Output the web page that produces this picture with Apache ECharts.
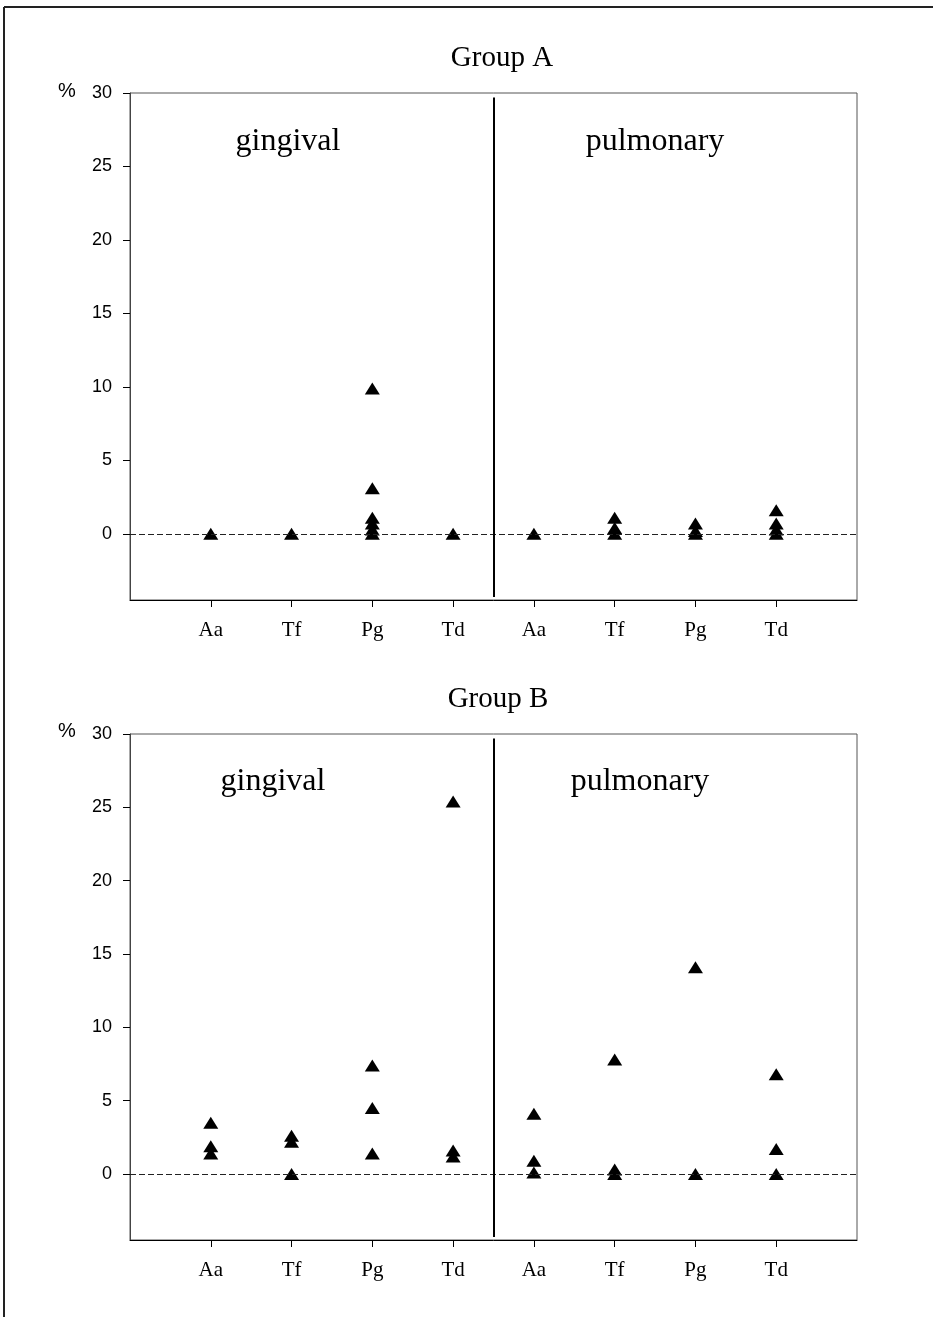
<!DOCTYPE html>
<html>
<head>
<meta charset="utf-8">
<script src="https://cdn.jsdelivr.net/npm/echarts@6/dist/echarts.min.js"></script>
<style>html,body{margin:0;padding:0;background:#fff}#c{width:933px;height:1317px}</style>
</head>
<body>
<div id="c"></div>
<script>
// ---- data ----
var categories = ['Aa', 'Tf', 'Pg', 'Td', 'Aa', 'Tf', 'Pg', 'Td'];
var sites = ['gingival', 'pulmonary'];
var yTicks = [0, 5, 10, 15, 20, 25, 30];
// Group A: values (%) per category position (gingival Aa..Td, pulmonary Aa..Td)
var groupAValues = [
  [0],
  [0],
  [9.9, 3.1, 1.1, 0.7, 0.3, 0],
  [0],
  [0],
  [1.1, 0.4, 0],
  [0.7, 0.2, 0],
  [1.6, 0.7, 0.3, 0]
];
// Group B
var groupBValues = [
  [3.5, 1.9, 1.4],
  [2.6, 2.2, 0],
  [7.4, 4.5, 1.4],
  [25.4, 1.6, 1.2],
  [4.1, 0.9, 0.1],
  [7.8, 0.3, 0],
  [14.1, 0],
  [6.8, 1.7, 0]
];

function toPoints(vals) {
  var pts = [];
  vals.forEach(function (arr, i) {
    arr.forEach(function (v) { pts.push([i + 1, v]); });
  });
  return pts;
}

var serif = '"Liberation Serif", "Times New Roman", serif';
var sans = '"Liberation Sans", Arial, sans-serif';

var chart = echarts.init(document.getElementById('c'), null, {renderer: 'canvas'});

function xAxisCfg(gi) {
  return {
    gridIndex: gi, type: 'value', min: 0, max: 9,
    axisLine: {show: true, onZero: false, lineStyle: {color: '#000', width: 1}},
    axisTick: {show: true, length: 7, inside: false, customValues: [1,2,3,4,5,6,7,8], lineStyle: {color: '#000'}},
    axisLabel: {
      show: true, margin: 20, customValues: [1,2,3,4,5,6,7,8],
      formatter: function (v) { return categories[Math.round(v) - 1] || ''; },
      fontFamily: serif, fontSize: 21, color: '#000'
    },
    splitLine: {show: false}
  };
}
function yAxisCfg(gi) {
  return {
    gridIndex: gi, type: 'value', min: -4.5, max: 30,
    axisLine: {show: true, onZero: false, lineStyle: {color: '#444', width: 1}},
    axisTick: {show: true, length: 7, customValues: yTicks, lineStyle: {color: '#000'}},
    axisLabel: {show: true, margin: 18, customValues: yTicks, fontFamily: sans, fontSize: 18, color: '#000'},
    splitLine: {show: false}
  };
}
function seriesCfg(gi, vals, divTop, divBot) {
  return {
    type: 'scatter', xAxisIndex: gi, yAxisIndex: gi,
    data: toPoints(vals),
    symbol: 'triangle', symbolSize: [15, 12],
    itemStyle: {color: '#000', opacity: 1},
    silent: true,
    markLine: {
      silent: true, symbol: 'none', animation: false,
      label: {show: false},
      data: [
        {yAxis: 0, lineStyle: {type: [6, 3], color: '#222', width: 1.2}},
        [{coord: [4.5, divTop], lineStyle: {type: 'solid', color: '#000', width: 2}}, {coord: [4.5, divBot]}]
      ]
    }
  };
}

chart.setOption({
  animation: false,
  title: [
    {text: 'Group A', left: 497, top: 39, textAlign: 'center',
     textStyle: {fontFamily: serif, fontSize: 29, fontWeight: 'normal', color: '#000'}},
    {text: 'Group B', left: 493, top: 680, textAlign: 'center',
     textStyle: {fontFamily: serif, fontSize: 29, fontWeight: 'normal', color: '#000'}}
  ],
  grid: [
    {left: 130, top: 93, width: 727, height: 507, show: true, borderColor: '#555', borderWidth: 1, backgroundColor: 'transparent'},
    {left: 130, top: 734, width: 727, height: 506, show: true, borderColor: '#555', borderWidth: 1, backgroundColor: 'transparent'}
  ],
  xAxis: [xAxisCfg(0), xAxisCfg(1)],
  yAxis: [yAxisCfg(0), yAxisCfg(1)],
  series: [
    seriesCfg(0, groupAValues, 29.7, -4.3),
    seriesCfg(1, groupBValues, 29.7, -4.3)
  ],
  graphic: [
    {type: 'line', shape: {x1: 4, y1: 7, x2: 933, y2: 7}, style: {stroke: '#222', lineWidth: 2}},
    {type: 'line', shape: {x1: 4, y1: 7, x2: 4, y2: 1317}, style: {stroke: '#222', lineWidth: 2}},
    {type: 'text', x: 67, y: 91, style: {text: '%', font: '20px ' + sans, fill: '#000', textAlign: 'center', textVerticalAlign: 'middle'}},
    {type: 'text', x: 67, y: 731, style: {text: '%', font: '20px ' + sans, fill: '#000', textAlign: 'center', textVerticalAlign: 'middle'}},
    {type: 'text', x: 288, y: 142, style: {text: sites[0], font: '32px ' + serif, fill: '#000', textAlign: 'center', textVerticalAlign: 'middle'}},
    {type: 'text', x: 655, y: 142, style: {text: sites[1], font: '32px ' + serif, fill: '#000', textAlign: 'center', textVerticalAlign: 'middle'}},
    {type: 'text', x: 273, y: 782, style: {text: sites[0], font: '32px ' + serif, fill: '#000', textAlign: 'center', textVerticalAlign: 'middle'}},
    {type: 'text', x: 640, y: 782, style: {text: sites[1], font: '32px ' + serif, fill: '#000', textAlign: 'center', textVerticalAlign: 'middle'}}
  ]
});
</script>
</body>
</html>
